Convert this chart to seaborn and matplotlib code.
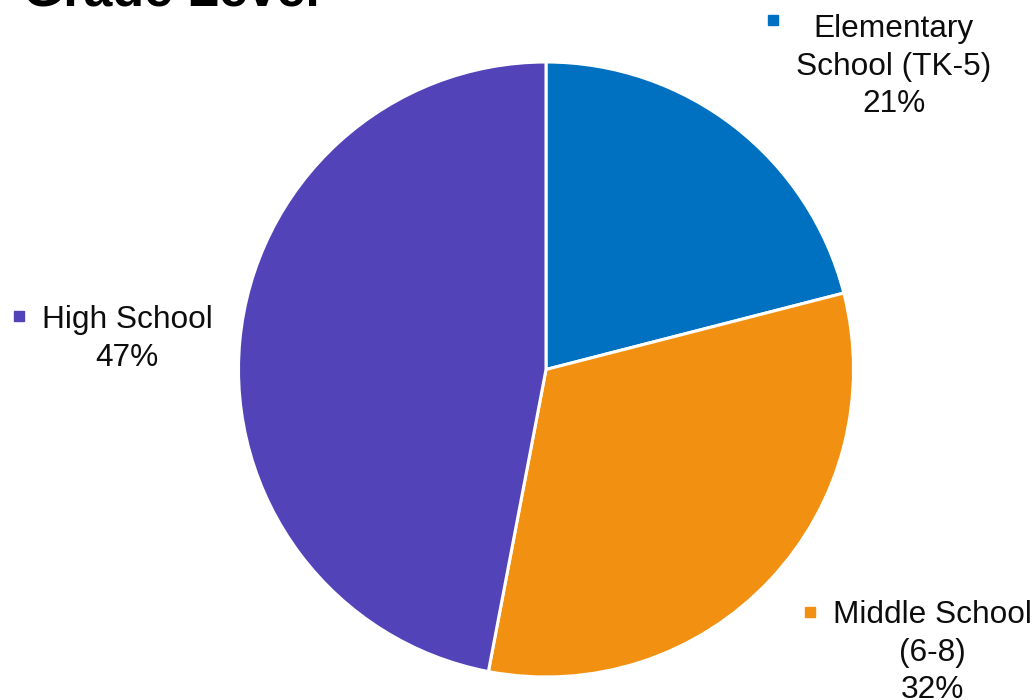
import matplotlib
matplotlib.use("Agg")
import matplotlib.pyplot as plt
import seaborn as sns

# ---- data ----
title = "Grade Level"
categories = ["Elementary\nSchool (TK-5)", "Middle School\n(6-8)", "High School"]
values = [21, 32, 47]
palette_hex = ["#0070C0", "#F29111", "#5243B8"]

sns.set_theme(style="white")
plt.rcParams['font.family'] = ['Liberation Sans', 'DejaVu Sans']
colors = sns.color_palette(palette_hex)

W, H = 1036, 700
fig = plt.figure(figsize=(W / 100, H / 100), dpi=100)
ax = fig.add_axes([0, 0, 1, 1])


def py(y):
    return H - y


ax.pie(values, colors=colors, startangle=90, counterclock=False,
       center=(546, py(369.5)), radius=307.5,
       wedgeprops=dict(edgecolor="white", linewidth=2.2))
ax.set_xlim(0, W)
ax.set_ylim(0, H)
ax.set_aspect("equal")
ax.axis("off")

# label layout: (block center x, first baseline y, square x, square y)
layout = [(894, 37.5, 773, 20), (932, 623, 810, 612), (127, 328, 19, 316)]
fs = 22.8
step = 37.5
for cat, val, col, (cx, by, sx, sy) in zip(categories, values, colors, layout):
    lines = cat.split("\n") + [f"{val}%"]
    for i, line in enumerate(lines):
        ax.text(cx, py(by + i * step), line, ha="center", va="baseline",
                fontsize=fs, color="#0D0D0D")
    ax.plot([sx], [py(sy)], marker="s", markersize=7.5, color=col,
            linestyle="none")

ax.text(23, py(5), title, ha="left", va="baseline", fontsize=37.4,
        fontweight="bold", color="#000000")

fig.savefig("out.png", dpi=100)
